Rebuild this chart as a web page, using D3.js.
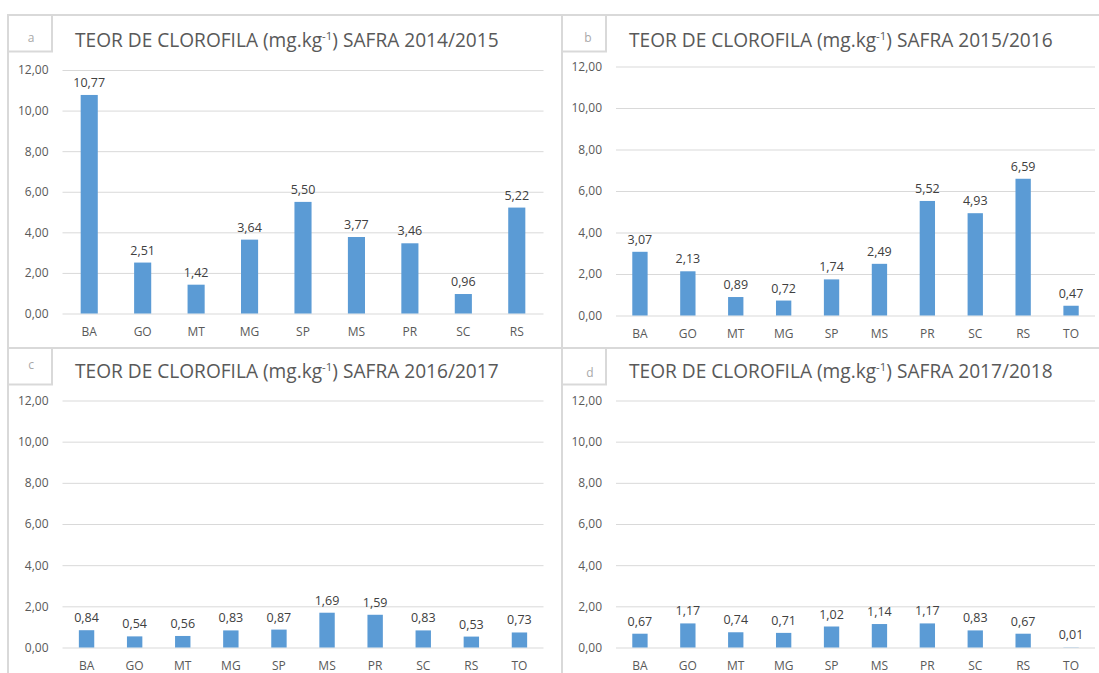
<!DOCTYPE html>
<html>
<head>
<meta charset="utf-8">
<script src="https://cdn.jsdelivr.net/npm/d3@7"></script>
<style>
body{margin:0;background:#fff;}
svg text{font-family:"Open Sans",sans-serif;}
</style>
</head>
<body>
<div id="chart"></div>
<script>
var w=1099;
var h=673;

// data
var states9=["BA","GO","MT","MG","SP","MS","PR","SC","RS"];
var states10=["BA","GO","MT","MG","SP","MS","PR","SC","RS","TO"];
var safra1415=[10.77,2.51,1.42,3.64,5.50,3.77,3.46,0.96,5.22];
var safra1516=[3.07,2.13,0.89,0.72,1.74,2.49,5.52,4.93,6.59,0.47];
var safra1617=[0.84,0.54,0.56,0.83,0.87,1.69,1.59,0.83,0.53,0.73];
var safra1718=[0.67,1.17,0.74,0.71,1.02,1.14,1.17,0.83,0.67,0.01];
var yTicks=[0,2,4,6,8,10,12];
var seasons=["2014/2015","2015/2016","2016/2017","2017/2018"];
var letters=["a","b","c","d"];

var blue="#5b9bd5";
var grid="#d9d9d9";
var txt="#595959";

var fmt=d3.formatLocale({decimal:",",thousands:".",grouping:[3],currency:["",""]}).format(".2f");

// panel layout
var panels=[
  {bx:8,  by:15,  left:62.5, right:543.5, top:70,  bottom:313.5, cats:states9,  vals:safra1415, tx:75,  ty:47,  lx:31,  ly:42},
  {bx:562,by:15,  left:616,  right:1095,  top:66.5,bottom:315.5, cats:states10, vals:safra1516, tx:629, ty:47,  lx:588, ly:42},
  {bx:8,  by:348, left:62.5, right:543.5, top:400.5,bottom:647.5,cats:states10, vals:safra1617, tx:75,  ty:378, lx:31,  ly:369},
  {bx:562,by:348, left:616,  right:1095,  top:400.5,bottom:647.5,cats:states10, vals:safra1718, tx:629, ty:378, lx:590, ly:377}
];

var svg=d3.select("#chart")
  .append("svg")
  .attr("width",w)
  .attr("height",h);

// frame
svg.append("line").attr("x1",8).attr("x2",w).attr("y1",15).attr("y2",15);
svg.append("line").attr("x1",8).attr("x2",w).attr("y1",348).attr("y2",348);
svg.append("line").attr("x1",8).attr("x2",8).attr("y1",15).attr("y2",h);
svg.append("line").attr("x1",562).attr("x2",562).attr("y1",15).attr("y2",h);
svg.selectAll("line").attr("stroke",grid).attr("stroke-width",2);

panels.forEach(function(p,i){
  var g=svg.append("g");

  // letter box
  g.append("rect")
    .attr("x",p.bx).attr("y",p.by)
    .attr("width",44).attr("height",36.5)
    .attr("fill","none").attr("stroke",grid).attr("stroke-width",2);
  g.append("text")
    .attr("x",p.lx).attr("y",p.ly)
    .attr("text-anchor","middle")
    .attr("font-size",12)
    .attr("fill","#a9a9a9")
    .text(letters[i]);

  // title
  var t=g.append("text")
    .attr("x",p.tx).attr("y",p.ty)
    .attr("fill",txt)
    .attr("font-size",18.5);
  t.append("tspan").text("TEOR DE CLOROFILA (mg.kg");
  t.append("tspan").attr("dy",-7).attr("font-size",11).text("-1");
  t.append("tspan").attr("dy",7).text(") SAFRA "+seasons[i]);
  var len=t.node().getComputedTextLength();
  var fs=18.5*424/len;
  t.attr("font-size",fs);
  t.selectAll("tspan").filter(function(d,j){return j==1;}).attr("font-size",fs*0.6).attr("dy",-fs*0.38);
  t.selectAll("tspan").filter(function(d,j){return j==2;}).attr("dy",fs*0.38);

  var x=d3.scaleBand()
    .domain(p.cats)
    .range([p.left,p.right])
    .paddingInner(0.68)
    .paddingOuter(0.34);
  var y=d3.scaleLinear()
    .domain([0,12])
    .range([p.bottom,p.top]);

  // y axis + grid
  var ya=g.append("g")
    .attr("transform","translate("+p.left+",0)")
    .call(d3.axisLeft(y).tickValues(yTicks).tickSize(-(p.right-p.left)).tickPadding(14).tickFormat(fmt));
  ya.select(".domain").remove();
  ya.selectAll("line").attr("stroke",grid);
  ya.selectAll("text").attr("fill",txt).attr("font-size",12).attr("font-family",null);

  // x axis
  var xa=g.append("g")
    .attr("transform","translate(0,"+p.bottom+")")
    .call(d3.axisBottom(x).tickSize(0).tickPadding(14));
  xa.select(".domain").remove();
  xa.selectAll("text").attr("fill",txt).attr("font-size",12).attr("font-family",null);

  // bars
  g.selectAll("rect.bar")
    .data(p.vals)
    .enter()
    .append("rect")
    .attr("class","bar")
    .attr("fill",blue)
    .attr("x",function(d,j){return x(p.cats[j]);})
    .attr("y",function(d){return y(d);})
    .attr("width",x.bandwidth())
    .attr("height",function(d){return p.bottom-y(d);});

  // value labels
  g.selectAll("text.val")
    .data(p.vals)
    .enter()
    .append("text")
    .attr("class","val")
    .attr("text-anchor","middle")
    .attr("font-size",12.5)
    .attr("fill","#404040")
    .attr("x",function(d,j){return x(p.cats[j])+x.bandwidth()/2;})
    .attr("y",function(d){return y(d)-8;})
    .text(function(d){return fmt(d);});
});
</script>
</body>
</html>
